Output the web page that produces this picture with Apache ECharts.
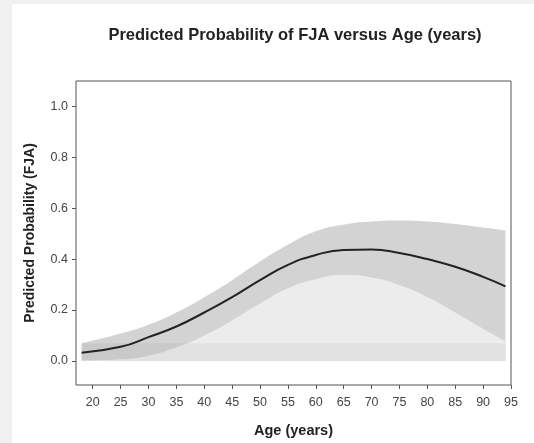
<!DOCTYPE html>
<html>
<head>
<meta charset="utf-8">
<script src="https://cdn.jsdelivr.net/npm/echarts@6/dist/echarts.min.js"></script>
<style>
  html, body { margin: 0; padding: 0; background: #f0f0f0; }
  #main { position: absolute; left: 12px; top: 4px; width: 522px; height: 439px; background: #fff; }
</style>
</head>
<body>
<div id="main"></div>
<script>
// values
var ages = [18, 25, 30, 35, 40, 45, 50, 55, 60, 65, 70, 75, 80, 85, 90, 94];
var fitted = [0.032, 0.055, 0.093, 0.135, 0.19, 0.25, 0.317, 0.377, 0.416, 0.436, 0.438, 0.424, 0.40, 0.37, 0.33, 0.293];
var upper = [0.069, 0.107, 0.142, 0.19, 0.25, 0.317, 0.39, 0.456, 0.509, 0.536, 0.548, 0.552, 0.548, 0.538, 0.524, 0.512];
var lower = [0.001, 0.006, 0.02, 0.053, 0.1, 0.159, 0.225, 0.285, 0.321, 0.337, 0.328, 0.298, 0.251, 0.19, 0.126, 0.077];
var stripTop = 0.069;
var xTicks = [20, 25, 30, 35, 40, 45, 50, 55, 60, 65, 70, 75, 80, 85, 90, 95];
var yTicks = [0, 0.2, 0.4, 0.6, 0.8, 1.0];

function pairs(vals) {
    return ages.map(function(a, i) { return [a, vals[i]]; });
}

var myChart = echarts.init(document.getElementById('main'));
var font = 'Liberation Sans, Arial, sans-serif';
option = {
    animation: false,
    textStyle: { fontFamily: font },
    title: {
        text: 'Predicted Probability of FJA versus Age (years)',
        left: 278,
        textAlign: 'center',
        top: 18,
        textStyle: { fontSize: 16.5, fontWeight: 'bold', color: '#222', fontFamily: font }
    },
    grid: {
        left: 64, right: 23, top: 77, bottom: 58,
        show: true, borderColor: '#555', borderWidth: 1, backgroundColor: 'transparent'
    },
    xAxis: {
        type: 'value',
        min: 17, max: 95,
        name: 'Age (years)',
        nameLocation: 'middle',
        nameGap: 38,
        nameTextStyle: { fontSize: 14.5, fontWeight: 'bold', color: '#222' },
        axisLine: { show: false, onZero: false },
        splitLine: { show: false },
        axisTick: { show: true, inside: false, length: 4, lineStyle: { color: '#555' }, customValues: xTicks },
        axisLabel: { fontSize: 12.5, color: '#444', margin: 11, customValues: xTicks }
    },
    yAxis: {
        type: 'value',
        min: -0.095, max: 1.1,
        name: 'Predicted Probability (FJA)',
        nameLocation: 'middle',
        nameGap: 39,
        nameTextStyle: { fontSize: 14, fontWeight: 'bold', color: '#222' },
        axisLine: { show: false, onZero: false },
        splitLine: { show: false },
        axisTick: { show: true, inside: false, length: 4, lineStyle: { color: '#555' }, customValues: yTicks },
        axisLabel: {
            fontSize: 12.5, color: '#444', margin: 8, customValues: yTicks,
            formatter: function(v) { return v.toFixed(1); }
        }
    },
    series: [
        {
            name: 'upper',
            type: 'line',
            data: pairs(upper),
            smooth: 0.5,
            symbol: 'none',
            lineStyle: { width: 0 },
            areaStyle: { color: '#d3d3d3', opacity: 1, origin: 0 },
            z: 1
        },
        {
            name: 'lower',
            type: 'line',
            data: pairs(lower),
            smooth: 0.5,
            symbol: 'none',
            lineStyle: { width: 0 },
            areaStyle: { color: '#ececec', opacity: 1, origin: 0 },
            z: 2
        },
        {
            // faint band along the bottom of the shading
            name: 'strip',
            type: 'line',
            data: [[ages[0], stripTop], [ages[ages.length - 1], stripTop]],
            symbol: 'none',
            lineStyle: { width: 0 },
            areaStyle: { color: '#000', opacity: 0.045, origin: 0 },
            z: 3
        },
        {
            name: 'fitted',
            type: 'line',
            data: pairs(fitted),
            smooth: 0.5,
            symbol: 'none',
            lineStyle: { width: 2, color: '#222' },
            z: 4
        }
    ]
};
myChart.setOption(option);
</script>
</body>
</html>
